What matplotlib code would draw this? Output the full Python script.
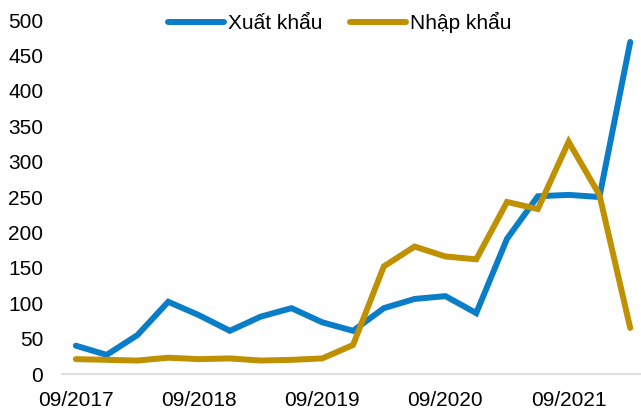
import matplotlib
matplotlib.use("Agg")
import matplotlib.pyplot as plt

plt.rcParams['font.family'] = ['Liberation Sans', 'DejaVu Sans']

periods = ["09/2017", "12/2017", "03/2018", "06/2018", "09/2018", "12/2018", "03/2019", "06/2019",
           "09/2019", "12/2019", "03/2020", "06/2020", "09/2020", "12/2020", "03/2021", "06/2021",
           "09/2021", "12/2021", "03/2022"]
xuat_khau = [40, 27, 55, 102, 83, 61, 81, 93, 73, 61, 93, 106, 110, 86, 191, 251, 253, 250, 469]
nhap_khau = [21, 20, 19, 23, 21, 22, 19, 20, 22, 41, 152, 180, 166, 162, 243, 233, 328, 253, 65]
tick_labels = ["09/2017", "09/2018", "09/2019", "09/2020", "09/2021"]

fig = plt.figure(figsize=(6.41, 4.11), dpi=100)
ax = fig.add_axes([62/641, 37/411, (641-62)/641, (374-20)/411])

x = list(range(len(periods)))
ax.plot(x, xuat_khau, color='#0A7DC8', lw=4.3, label='Xuất khẩu', solid_capstyle='round', solid_joinstyle='miter')
ax.plot(x, nhap_khau, color='#BF9000', lw=4.3, label='Nhập khẩu', solid_capstyle='round', solid_joinstyle='miter')

ax.set_ylim(0, 500)
ax.set_xlim(-0.45, 18.35)
ax.set_yticks(range(0, 501, 50))
ticks_pos = [periods.index(t) for t in tick_labels]
ax.set_xticks(ticks_pos)
ax.set_xticklabels(tick_labels)
ax.tick_params(axis='both', length=0, labelsize=15, colors='black')
ax.tick_params(axis='y', pad=13.5)
ax.tick_params(axis='x', pad=12.5)
for s in ['top', 'right', 'left']:
    ax.spines[s].set_visible(False)
ax.spines['bottom'].set_color('#D9D9D9')
ax.spines['bottom'].set_linewidth(1.2)

leg = ax.legend(loc='upper center', bbox_to_anchor=(0.48, 1.075), ncol=2, frameon=False,
                fontsize=15, handlelength=2.65, columnspacing=1.35, handletextpad=0.2)

fig.savefig('out.png', dpi=100)
